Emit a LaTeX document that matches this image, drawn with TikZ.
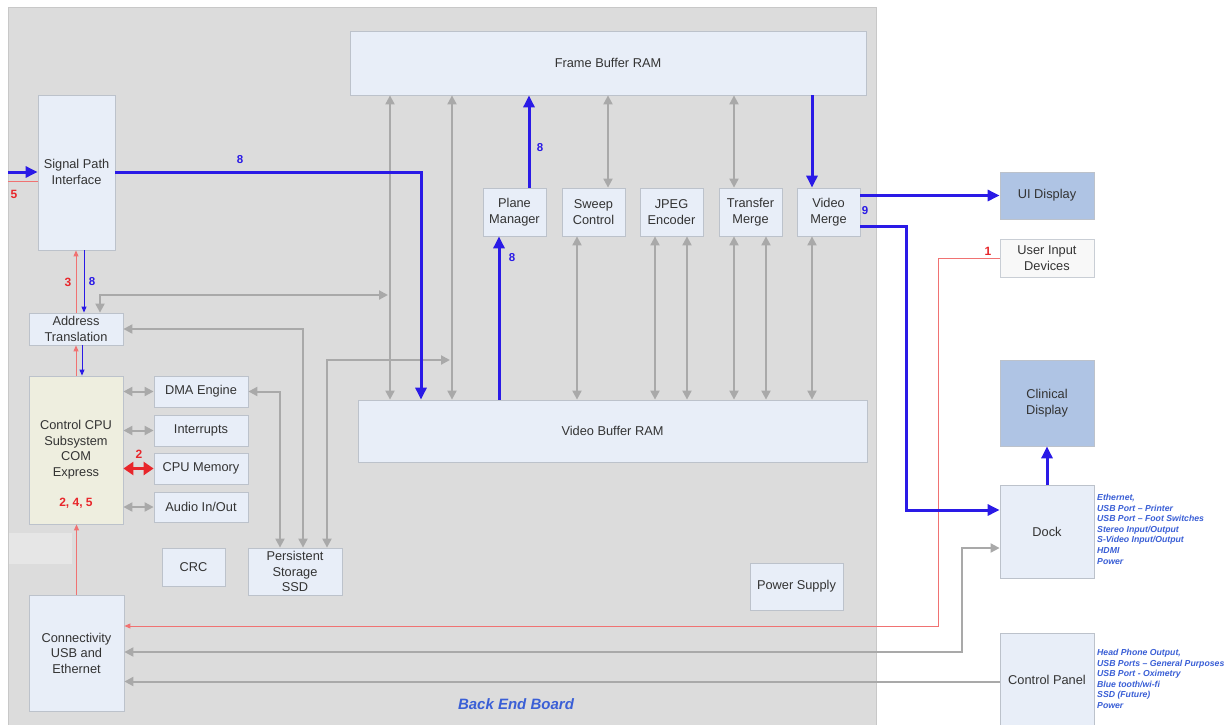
\documentclass[tikz,border=0pt]{standalone}
\usepackage{fontspec}
\setmainfont{Liberation Sans}
\usetikzlibrary{arrows.meta}
\definecolor{panel}{HTML}{DCDCDC}
\definecolor{panelb}{HTML}{C8C8C8}
\definecolor{band}{HTML}{E6E6E6}
\definecolor{boxfill}{HTML}{E8EEF8}
\definecolor{boxb}{HTML}{BCC2CB}
\definecolor{cpufill}{HTML}{EEEEDF}
\definecolor{bluebox}{HTML}{AFC4E4}
\definecolor{uidfill}{HTML}{F8F8F8}
\definecolor{agray}{HTML}{A9A9A9}
\definecolor{ablue}{HTML}{2A1AE6}
\definecolor{lred}{HTML}{F07272}
\definecolor{tred}{HTML}{E8262B}
\definecolor{lblue}{HTML}{3A5FD6}
\definecolor{txt}{HTML}{333333}
\begin{document}
\begin{tikzpicture}[x=1pt,y=-1pt,
  box/.style={draw=boxb, fill=boxfill, line width=0.8pt, text=txt, align=center, inner sep=0pt,
    font=\fontsize{12.8}{15.5}\selectfont},
  bbox/.style={box, fill=bluebox},
  garrow/.style={draw=agray, line width=2pt, >={Triangle[length=9pt,width=9pt]}},
  barrow/.style={draw=ablue, line width=3pt, >={Triangle[length=12pt,width=11pt]}},
  rarrow/.style={draw=tred, line width=3pt, >={Triangle[length=10pt,width=13pt]}},
  rline/.style={draw=lred, line width=0.9pt, >={Triangle[length=6pt,width=5pt]}},
  bline/.style={draw=ablue, line width=0.9pt, >={Triangle[length=6pt,width=5pt]}},
  blab/.style={text=ablue, font=\fontsize{11.5}{12}\selectfont\bfseries, inner sep=0pt},
  rlab/.style={text=tred, font=\fontsize{12}{13}\selectfont\bfseries, inner sep=0pt},
  plist/.style={text=lblue, align=left, anchor=north west, inner sep=0pt,
    font=\fontsize{8.7}{10.6}\selectfont\bfseries\itshape}
]
\useasboundingbox (0,0) rectangle (1232,724);
\clip (0,0) rectangle (1232,724);
\fill[white] (0,0) rectangle (1232,724);
% board panel
\draw[panelb, fill=panel, line width=0.8pt] (8,7) rectangle (876,735);
\fill[band] (8.5,533) rectangle (72,564);

% nodes
\node[box, minimum width=516pt, minimum height=64pt] (fb) at (608,63) {Frame Buffer RAM};
\node[box, minimum width=509pt, minimum height=62pt] (vb) at (612.5,431) {Video Buffer RAM};
\node[box, minimum width=77pt, minimum height=155pt, text depth=0pt] (sp) at (76.5,172.5) {};
\node[text=txt, align=center, font=\fontsize{12.8}{15.5}\selectfont] (spt) at (76.5,172) {Signal Path\\Interface};
\node[box, minimum width=94pt, minimum height=32pt] (at) at (76,329) {Address\\Translation};
\node[box, fill=cpufill, minimum width=94pt, minimum height=148pt] (cpu) at (76,450) {};
\node[text=txt, align=center, font=\fontsize{12.8}{15.5}\selectfont] (cput) at (76,449.5) {Control CPU\\Subsystem\\COM\\Express};
\node[rlab] (cpul) at (76,503) {2, 4, 5};
\node[box, minimum width=94pt, minimum height=31pt] (dma) at (201,391.5) {DMA Engine};
\node[box, minimum width=94pt, minimum height=31pt] (irq) at (201,430.5) {Interrupts};
\node[box, minimum width=94pt, minimum height=31pt] (mem) at (201,468.5) {CPU Memory};
\node[box, minimum width=94pt, minimum height=30pt] (aud) at (201,507) {Audio In/Out};
\node[box, minimum width=63pt, minimum height=38pt] (crc) at (193.5,567) {CRC};
\node[box, minimum width=94pt, minimum height=47pt] (ssd) at (295,571.5) {Persistent\\Storage\\SSD};
\node[box, minimum width=95pt, minimum height=116pt] (con) at (76.5,653) {Connectivity\\USB and\\Ethernet};
\node[box, minimum width=63pt, minimum height=48pt] (pm) at (514.5,212) {Plane\\Manager};
\node[box, minimum width=63pt, minimum height=48pt] (sw) at (593.5,212) {Sweep\\Control};
\node[box, minimum width=63pt, minimum height=48pt] (jp) at (671.5,212) {JPEG\\Encoder};
\node[box, minimum width=63pt, minimum height=48pt] (tm) at (750.5,212) {Transfer\\Merge};
\node[box, minimum width=63pt, minimum height=48pt] (vm) at (828.5,212) {Video\\Merge};
\node[box, minimum width=93pt, minimum height=47pt] (ps) at (796.5,586.5) {Power Supply};
\node[bbox, minimum width=94pt, minimum height=47pt] (ui) at (1047,195.5) {UI Display};
\node[box, fill=uidfill, draw=boxb!80, minimum width=94pt, minimum height=38pt] (uid) at (1047,258) {User Input\\Devices};
\node[bbox, minimum width=94pt, minimum height=86pt] (cd) at (1047,403) {Clinical\\Display};
\node[box, minimum width=94pt, minimum height=93pt] (dock) at (1047,531.5) {Dock};
\node[box, minimum width=94pt, minimum height=97pt, text depth=0pt] (cp) at (1047,681.5) {};
\node[text=txt, font=\fontsize{12.8}{15.5}\selectfont] (cpt) at (1047,680) {Control Panel};

\node[plist] (dockl) at (1097,494) {Ethernet,\\USB Port -- Printer\\USB Port -- Foot Switches\\Stereo Input/Output\\S-Video Input/Output\\HDMI\\Power};
\node[plist] (cpl) at (1097,649) {Head Phone Output,\\USB Ports -- General Purposes\\USB Port - Oximetry\\Blue tooth/wi-fi\\SSD (Future)\\Power};
\node[text=lblue, font=\fontsize{15}{16}\selectfont\bfseries\itshape] (beb) at (516,704) {Back End Board};

% gray connectors
\draw[garrow,<->] (100,0 |- at.north) -- (100,295) -- (388,295);
\draw[garrow,<->] (at.east) -- (303,0 |- at.east) -- (303,0 |- ssd.north);
\draw[garrow,<->] (dma.east) -- (280,0 |- dma.east) -- (280,0 |- ssd.north);
\draw[garrow,<->] (327,0 |- ssd.north) -- (327,360) -- (450,360);
\draw[garrow,<->] (390,0 |- fb.south) -- (390,0 |- vb.north);
\draw[garrow,<->] (452,0 |- fb.south) -- (452,0 |- vb.north);
\draw[garrow,<->] (608,0 |- fb.south) -- (608,0 |- sw.north);
\draw[garrow,<->] (734,0 |- fb.south) -- (734,0 |- tm.north);
\draw[garrow,<->] (577,0 |- sw.south) -- (577,0 |- vb.north);
\draw[garrow,<->] (655,0 |- jp.south) -- (655,0 |- vb.north);
\draw[garrow,<->] (687,0 |- jp.south) -- (687,0 |- vb.north);
\draw[garrow,<->] (734,0 |- tm.south) -- (734,0 |- vb.north);
\draw[garrow,<->] (766,0 |- tm.south) -- (766,0 |- vb.north);
\draw[garrow,<->] (812,0 |- vm.south) -- (812,0 |- vb.north);
\draw[garrow,<->] (cpu.east |- dma.west) -- (dma.west);
\draw[garrow,<->] (cpu.east |- irq.west) -- (irq.west);
\draw[garrow,<->] (cpu.east |- aud.west) -- (aud.west);
\draw[rarrow,<->] (cpu.east |- mem.west) -- (mem.west);
\draw[garrow,<->] (dock.west |- 0,548) -- (962,548) -- (962,652) -- (con.east |- 0,652);
\draw[garrow,->] (cp.west) -- (con.east |- cp.west);

% red thin connectors
\draw[rline,->] (uid.west) -- (938,0 |- uid.west) -- (938,626) -- (con.east |- 0,626);
\draw[rline,->] (con.north) -- (con.north |- cpu.south);
\draw[rline,->] (76,0 |- cpu.north) -- (76,0 |- at.south);
\draw[rline,->] (76,0 |- at.north) -- (76,0 |- sp.south);
\draw[bline,->] (84,0 |- sp.south) -- (84,0 |- at.north);
\draw[bline,->] (82,0 |- at.south) -- (82,0 |- cpu.north);
\coordinate (inR) at (8,181);
\draw[rline] (inR) -- (sp.west |- inR);

% blue thick connectors
\coordinate (inB) at (8,172);
\draw[barrow,->] (inB) -- (sp.west |- inB);
\draw[barrow,->] (sp.east |- inB) -- (421,172) -- (421,0 |- vb.north);
\draw[barrow,->] (499,0 |- vb.north) -- (499,0 |- pm.south);
\draw[barrow,->] (529,0 |- pm.north) -- (529,0 |- fb.south);
\draw[barrow,->] (812,0 |- fb.south) -- (812,0 |- vm.north);
\draw[barrow,->] (vm.east |- ui.west) -- (ui.west);
\draw[barrow,->] (vm.east |- 0,226) -- (906,226) -- (906,510) -- (dock.west |- 0,510);
\draw[barrow,->] (dock.north) -- (cd.south);

% labels
\node[blab] (l8a) at (240,160) {8};
\node[blab] (l8b) at (540,148) {8};
\node[blab] (l8c) at (512,258) {8};
\node[blab] (l9) at (865,211) {9};
\node[blab] (l8d) at (92,282) {8};
\node[rlab] (l3) at (68,282) {3};
\node[rlab] (l5) at (14,194) {5};
\node[rlab] (l1) at (988,251) {1};
\node[rlab] (l2) at (139,454) {2};
\end{tikzpicture}
\end{document}
